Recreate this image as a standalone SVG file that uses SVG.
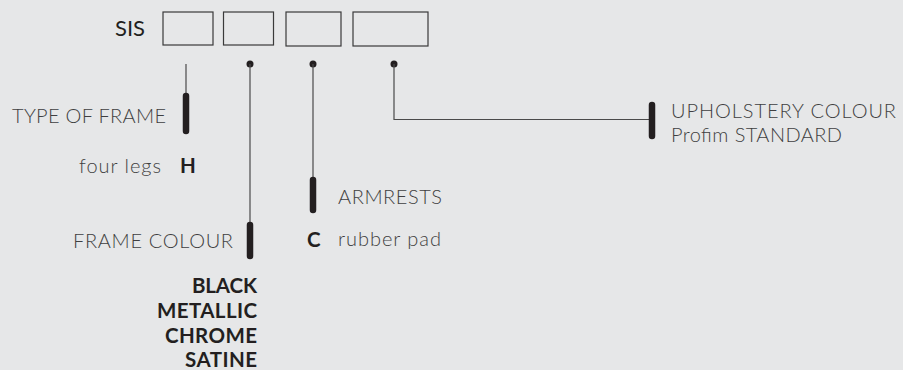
<svg xmlns="http://www.w3.org/2000/svg" width="903" height="370" viewBox="0 0 903 370">
<style>
.lbl{font-family:Lato,"Liberation Sans",sans-serif;font-weight:300;font-size:20px;fill:#3f3f41}
.code{font-family:Lato,"Liberation Sans",sans-serif;font-weight:700;font-size:20.5px;fill:#231f20}
.box{fill:none;stroke:#3a3a3a;stroke-width:1.2}
.thin{fill:none;stroke:#4a4a4a;stroke-width:1.2}
.bar{stroke:#231f20;stroke-width:6.5;stroke-linecap:round}
.dot{fill:#231f20}
</style>
<rect width="903" height="370" fill="#e6e7e8"/>
<g id="code">
<text x="115" y="36" style="font-family:Lato,'Liberation Sans',sans-serif;font-size:22px;fill:#231f20" textLength="30" lengthAdjust="spacing">SIS</text>
<rect class="box" x="163" y="12" width="50" height="33"/>
<rect class="box" x="223.5" y="12" width="50" height="33"/>
<rect class="box" x="286" y="12" width="55" height="34"/>
<rect class="box" x="353" y="12" width="75" height="34"/>
</g>
<g id="connectors">
<line class="thin" x1="186" y1="64" x2="186" y2="96"/>
<line class="bar" x1="186" y1="96" x2="186" y2="131"/>
<circle class="dot" cx="250" cy="64" r="3.5"/>
<line class="thin" x1="250" y1="64" x2="250" y2="225"/>
<line class="bar" x1="250" y1="225" x2="250" y2="256"/>
<circle class="dot" cx="313" cy="64" r="3.5"/>
<line class="thin" x1="313" y1="64" x2="313" y2="180"/>
<line class="bar" x1="313" y1="180" x2="313" y2="210"/>
<circle class="dot" cx="394" cy="64" r="3.5"/>
<polyline class="thin" points="394,64 394,119.5 652,119.5"/>
<line class="bar" x1="652" y1="105" x2="652" y2="136"/>
</g>
<g id="type-of-frame">
<text class="lbl" x="12" y="123" textLength="154" lengthAdjust="spacing">TYPE OF FRAME</text>
<text class="lbl" x="79" y="173" textLength="82" lengthAdjust="spacing">four legs</text>
<text class="code" x="180" y="173" textLength="15" lengthAdjust="spacing">H</text>
</g>
<g id="frame-colour">
<text class="lbl" x="73" y="248" textLength="160" lengthAdjust="spacing">FRAME COLOUR</text>
<text class="code" x="192" y="293" textLength="65" lengthAdjust="spacing">BLACK</text>
<text class="code" x="157" y="318" textLength="100" lengthAdjust="spacing">METALLIC</text>
<text class="code" x="165" y="343" textLength="92" lengthAdjust="spacing">CHROME</text>
<text class="code" x="185" y="367" textLength="72" lengthAdjust="spacing">SATINE</text>
</g>
<g id="armrests">
<text class="lbl" x="338" y="204" textLength="104" lengthAdjust="spacing">ARMRESTS</text>
<text class="code" x="307" y="247" textLength="13" lengthAdjust="spacing">C</text>
<text class="lbl" x="338" y="246" textLength="103" lengthAdjust="spacing">rubber pad</text>
</g>
<g id="upholstery">
<text class="lbl" x="671" y="117.5" textLength="225" lengthAdjust="spacing">UPHOLSTERY COLOUR</text>
<text class="lbl" x="671" y="141.5" textLength="171" lengthAdjust="spacing">Profim STANDARD</text>
</g>
</svg>
